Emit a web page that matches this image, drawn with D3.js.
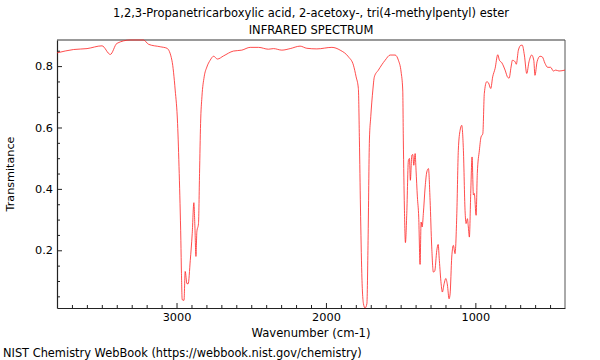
<!DOCTYPE html>
<html>
<head>
<meta charset="utf-8">
<script src="https://cdn.jsdelivr.net/npm/d3@7"></script>
<style>
  html, body { margin: 0; padding: 0; background: #fff; }
  svg { display: block; font-family: "DejaVu Sans", sans-serif; }
</style>
</head>
<body>
<svg id="chart" width="600" height="360"></svg>
<script>
const titleLines = ["1,2,3-Propanetricarboxylic acid, 2-acetoxy-, tri(4-methylpentyl) ester", "INFRARED SPECTRUM"];
const xLabel = "Wavenumber (cm-1)";
const yLabel = "Transmitance";
const footer = "NIST Chemistry WebBook (https://webbook.nist.gov/chemistry)";

const xMajorTicks = [3000, 2000, 1000];
const yMajorTicks = [0.2, 0.4, 0.6, 0.8];

const wavenumbers = [3800, 3689, 3599, 3499, 3443, 3399, 3310, 3221, 3187, 3109, 3064, 3031, 3009, 2993, 2982, 2971, 2967, 2962, 2950, 2942, 2930, 2922, 2908, 2895, 2884, 2877, 2870, 2864, 2853, 2846, 2839, 2830, 2815, 2797, 2775, 2752, 2726, 2686, 2619, 2563, 2507, 2451, 2385, 2351, 2295, 2239, 2173, 2128, 2061, 1960, 1905, 1849, 1816, 1798, 1783, 1776, 1769, 1760, 1749, 1738, 1726, 1718, 1709, 1700, 1686, 1676, 1649, 1604, 1570, 1537, 1515, 1497, 1486, 1482, 1475, 1468, 1459, 1448, 1441, 1435, 1425, 1419, 1412, 1403, 1397, 1388, 1379, 1370, 1363, 1356, 1348, 1336, 1325, 1314, 1303, 1292, 1281, 1272, 1258, 1249, 1241, 1229, 1221, 1209, 1198, 1187, 1176, 1169, 1158, 1147, 1136, 1124, 1114, 1102, 1091, 1080, 1069, 1062, 1053, 1047, 1040, 1031, 1022, 1013, 1007, 995, 987, 973, 962, 950, 940, 924, 913, 897, 884, 868, 850, 839, 823, 801, 783, 774, 761, 752, 734, 726, 712, 694, 686, 672, 656, 641, 623, 609, 601, 587, 567, 552, 534, 516, 496, 478, 462, 440, 400];
const transmittance = [0.843, 0.854, 0.857, 0.866, 0.838, 0.874, 0.885, 0.885, 0.871, 0.863, 0.858, 0.819, 0.722, 0.613, 0.45, 0.232, 0.124, 0.039, 0.037, 0.131, 0.091, 0.091, 0.167, 0.254, 0.355, 0.276, 0.18, 0.26, 0.287, 0.45, 0.613, 0.70, 0.765, 0.797, 0.819, 0.832, 0.823, 0.833, 0.849, 0.852, 0.861, 0.861, 0.855, 0.857, 0.852, 0.857, 0.865, 0.858, 0.856, 0.861, 0.852, 0.830, 0.803, 0.765, 0.727, 0.559, 0.341, 0.124, 0.026, 0.012, 0.026, 0.232, 0.559, 0.635, 0.722, 0.765, 0.787, 0.819, 0.836, 0.836, 0.819, 0.781, 0.722, 0.559, 0.341, 0.225, 0.32, 0.493, 0.499, 0.428, 0.51, 0.512, 0.477, 0.515, 0.461, 0.374, 0.308, 0.154, 0.292, 0.276, 0.32, 0.406, 0.455, 0.466, 0.363, 0.211, 0.129, 0.132, 0.2, 0.219, 0.167, 0.091, 0.064, 0.091, 0.108, 0.087, 0.042, 0.058, 0.178, 0.216, 0.189, 0.32, 0.526, 0.591, 0.607, 0.526, 0.33, 0.287, 0.303, 0.276, 0.243, 0.385, 0.504, 0.38, 0.385, 0.314, 0.45, 0.526, 0.569, 0.58, 0.711, 0.749, 0.746, 0.727, 0.765, 0.792, 0.837, 0.819, 0.811, 0.787, 0.763, 0.761, 0.797, 0.819, 0.814, 0.806, 0.852, 0.868, 0.868, 0.836, 0.776, 0.814, 0.836, 0.819, 0.770, 0.814, 0.832, 0.830, 0.809, 0.796, 0.796, 0.784, 0.787, 0.784, 0.787];

const data = wavenumbers.map((w, i) => ({ w, t: transmittance[i] }));

const svg = d3.select("#chart");
const mLeft = 57, mRight = 565, mTop = 40, mBottom = 308;

const x = d3.scaleLinear().domain([3800, 400]).range([mLeft, mRight]);
const y = d3.scaleLinear().domain(d3.extent(transmittance)).range([mBottom, mTop]);

// titles
svg.append("text").attr("x", 311).attr("y", 17).attr("text-anchor", "middle")
  .attr("font-size", 11.5).attr("fill", "#000").text(titleLines[0]);
svg.append("text").attr("x", 311).attr("y", 34).attr("text-anchor", "middle")
  .attr("font-size", 11.5).attr("fill", "#000").text(titleLines[1]);

// frame top/right (grey)
svg.append("line").attr("x1", mLeft).attr("x2", mRight).attr("y1", mTop).attr("y2", mTop)
  .attr("stroke", "#999").attr("stroke-width", 2);
svg.append("line").attr("x1", mRight).attr("x2", mRight).attr("y1", mTop).attr("y2", mBottom)
  .attr("stroke", "#555").attr("stroke-width", 1);

// x axis
const xMinor = d3.range(500, 3800, 100).filter(v => !xMajorTicks.includes(v));
const gx = svg.append("g").attr("transform", `translate(0,${mBottom})`);
gx.call(d3.axisBottom(x).tickValues(xMinor).tickSize(-3).tickFormat(""));
gx.call(g => g.selectAll(".domain").remove());
const gx2 = svg.append("g").attr("transform", `translate(0,${mBottom})`);
gx2.call(d3.axisBottom(x).tickValues(xMajorTicks).tickSize(-5).tickPadding(5).tickFormat(d3.format("d")).tickSizeOuter(0));
[gx, gx2].forEach(g => {
  g.selectAll("line").attr("stroke", "#222");
  g.selectAll("text").attr("font-size", 11.3).attr("fill", "#000").attr("font-family", "DejaVu Sans, sans-serif");
});
gx2.select(".domain").attr("stroke", "#222").attr("stroke-width", 1.2);

// y axis
const yMinor = d3.range(0.05, 0.9, 0.05).map(v => +v.toFixed(2)).filter(v => !yMajorTicks.includes(v));
const gy = svg.append("g").attr("transform", `translate(${mLeft},0)`);
gy.call(d3.axisLeft(y).tickValues(yMinor).tickSize(-3).tickFormat(""));
gy.call(g => g.selectAll(".domain").remove());
const gy2 = svg.append("g").attr("transform", `translate(${mLeft},0)`);
gy2.call(d3.axisLeft(y).tickValues(yMajorTicks).tickSize(-5).tickPadding(4).tickFormat(d3.format(".1f")).tickSizeOuter(0));
[gy, gy2].forEach(g => {
  g.selectAll("line").attr("stroke", "#222");
  g.selectAll("text").attr("font-size", 11.3).attr("fill", "#000").attr("font-family", "DejaVu Sans, sans-serif");
});
gy2.select(".domain").attr("stroke", "#222").attr("stroke-width", 1.2);

// spectrum
svg.append("path").datum(data)
  .attr("fill", "none").attr("stroke", "#ff2020").attr("stroke-opacity", 0.8).attr("stroke-width", 1)
  .attr("d", d3.line().x(d => x(d.w)).y(d => y(d.t)).curve(d3.curveMonotoneX));

// labels
svg.append("text").attr("x", 311).attr("y", 337).attr("text-anchor", "middle")
  .attr("font-size", 11.6).attr("fill", "#000").text(xLabel);
svg.append("text").attr("transform", `translate(14,174) rotate(-90)`).attr("text-anchor", "middle")
  .attr("font-size", 11.2).attr("fill", "#000").text(yLabel);
svg.append("text").attr("x", 3).attr("y", 357)
  .attr("font-size", 11.4).attr("fill", "#000").text(footer);
</script>
</body>
</html>
